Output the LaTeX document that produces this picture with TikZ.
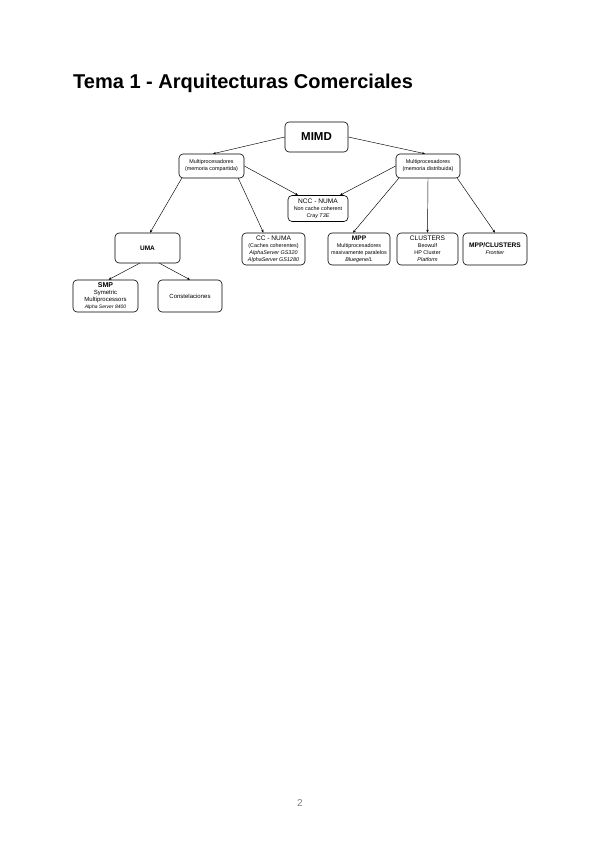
\documentclass[tikz,border=0pt]{standalone}
\usepackage{fontspec}
\setmainfont{Liberation Sans}
\usetikzlibrary{arrows.meta}
\begin{document}
\begin{tikzpicture}[x=1pt,y=-1pt,
  box/.style={draw, rounded corners=4pt, line width=0.6pt, align=center, inner sep=0pt,
              font=\fontsize{5.4}{7}\selectfont},
  conn/.style={line width=0.45pt, -{Stealth[length=3pt,width=2.4pt]}}]
\useasboundingbox[fill=white] (0,0) rectangle (600,848);

\node[anchor=base west, inner sep=0pt] (title) at (73,89)
  {\fontsize{20}{21}\selectfont\bfseries Tema 1 - Arquitecturas Comerciales};

\node[box, minimum width=63pt, minimum height=30pt] (mimd) at (316.5,137)
  {\fontsize{11.5}{12}\selectfont\bfseries MIMD};
\node[box, minimum width=65pt, minimum height=24pt] (lmp) at (211.5,166)
  {Multiprocesadores\\(memoria compartida)};
\node[box, minimum width=64pt, minimum height=24pt] (rmp) at (428,166)
  {Multiprocesadores\\(memoria distribuida)};
\node[box, minimum width=60pt, minimum height=26pt] (ncc) at (318,208.5)
  {{\fontsize{6.6}{7}\selectfont NCC - NUMA}\\Non cache coherent\\\textit{Cray T3E}};
\node[box, minimum width=63pt, minimum height=32pt] (cc) at (273.5,249)
  {{\fontsize{6.6}{7}\selectfont CC - NUMA}\\(Caches coherentes)\\\textit{AlphaServer GS320}\\\textit{AlphaServer GS1280}};
\node[box, minimum width=62pt, minimum height=32pt] (mpp) at (359,249)
  {{\fontsize{6.6}{7}\selectfont\bfseries MPP}\\Multiprocesadores\\masivamente paralelos\\\textit{Bluegene/L}};
\node[box, minimum width=61pt, minimum height=32pt] (cl) at (427.5,249)
  {{\fontsize{6.6}{7}\selectfont CLUSTERS}\\Beowulf\\HP Cluster\\\textit{Platform}};
\node[box, minimum width=64pt, minimum height=32pt] (mppcl) at (495,249)
  {{\fontsize{6.6}{7}\selectfont\bfseries MPP/CLUSTERS}\\\textit{Frontier}};
\node[box, minimum width=65pt, minimum height=30pt] (uma) at (147.5,248)
  {\fontsize{6.5}{7}\selectfont\bfseries UMA};
\node[box, minimum width=65pt, minimum height=32pt] (smp) at (105.5,296)
  {{\fontsize{7}{7.5}\selectfont\bfseries SMP}\\{\fontsize{6}{7}\selectfont Symetric}\\{\fontsize{6}{7}\selectfont Multiprocessors}\\{\fontsize{5}{6}\selectfont\itshape Alpha Server 8400}};
\node[box, minimum width=64pt, minimum height=32pt] (con) at (190,296)
  {\fontsize{6}{7}\selectfont Constelaciones};

\node[text=gray, inner sep=0pt, font=\fontsize{10}{10}\selectfont] (pg) at (300,803) {2};

\draw[conn] (mimd.west) -- ([xshift=1.5pt]lmp.north);
\draw[conn] (mimd.east) -- ([xshift=-3pt]rmp.north);
\draw[conn] ([xshift=3pt]lmp.south west) -- ([xshift=2.5pt]uma.north);
\draw[conn] ([xshift=-6pt]lmp.south east) -- ([xshift=-10pt]cc.north);
\draw[conn] (lmp.east) -- ([xshift=-20pt]ncc.north);
\draw[conn] (rmp.west) -- ([xshift=22pt]ncc.north);
\draw[conn] ([xshift=3pt]rmp.south west) -- ([xshift=-6pt]mpp.north);
\draw[conn] (rmp.south) -- (cl.north);
\draw[conn] ([xshift=-3pt]rmp.south east) -- (mppcl.north);
\draw[conn] ([xshift=-8pt]uma.south) -- ([xshift=3pt]smp.north);
\draw[conn] ([xshift=12pt]uma.south) -- (con.north);
\end{tikzpicture}
\end{document}
